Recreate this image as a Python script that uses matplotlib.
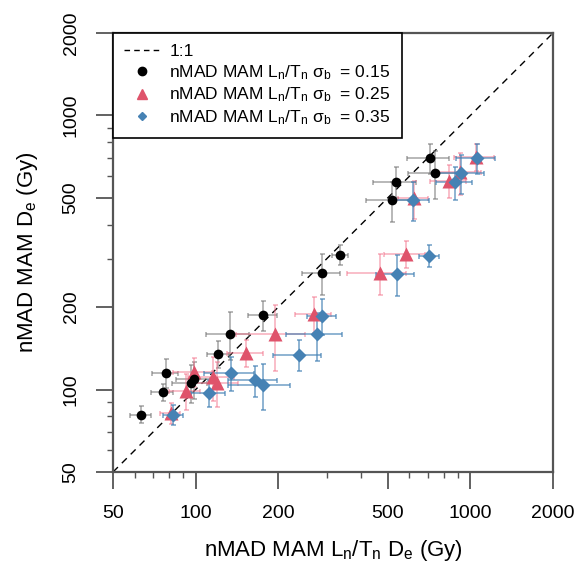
import matplotlib.pyplot as plt
from matplotlib.lines import Line2D
from matplotlib.ticker import FixedLocator, NullFormatter

plt.rcParams['font.family'] = ['Liberation Sans', 'DejaVu Sans']
plt.rcParams['mathtext.fontset'] = 'custom'
plt.rcParams['mathtext.rm'] = 'Liberation Sans'
plt.rcParams['mathtext.it'] = 'Liberation Sans:italic'
plt.rcParams['mathtext.bf'] = 'Liberation Sans:bold'

# sigma_b = 0.15 (black circles)
x15 = [63, 76, 78, 96, 99, 121, 133, 176, 289, 336, 517, 537, 714, 744]
y15 = [81, 98, 115, 106, 109, 135, 160, 187, 266, 310, 490, 574, 698, 619]
xe15 = [5.5, 7, 8.5, 14, 14, 11, 24, 21, 46, 23, 100, 95, 125, 150]
ye15 = [5.7, 7, 14, 17, 17, 15, 32, 23, 45, 26, 83, 75, 87, 125]

# sigma_b = 0.25 (red triangles)
x25 = [81, 92, 99, 116, 120, 153, 195, 270, 470, 584, 624, 837, 918, 1049]
y25 = [82, 99, 116, 111, 106, 136, 160, 189, 267, 312, 499, 579, 621, 708]
xe25 = [7, 12, 16, 22, 22, 23, 55, 40, 115, 100, 80, 125, 175, 175]
ye25 = [7, 15, 14, 20, 20, 15, 43, 28, 45, 35, 80, 80, 110, 80]

# sigma_b = 0.35 (blue diamonds)
x35 = [83, 112, 135, 164, 176, 238, 277, 289, 540, 710, 617, 880, 923, 1056]
y35 = [81, 97, 115, 108, 104, 134, 159, 186, 264, 308, 492, 571, 616, 698]
xe35 = [7, 16, 28, 33, 45, 47, 63, 34, 85, 62, 92, 130, 195, 170]
ye35 = [7, 11, 16, 14, 20, 17, 32, 28, 45, 29, 80, 80, 100, 87]

major_ticks = [50, 100, 200, 500, 1000, 2000]
minor_ticks = [60, 70, 80, 90, 300, 400, 600, 700, 800, 900]

red = '#DF536B'
blue = '#4682B4'

fig = plt.figure(figsize=(5.78, 5.69), dpi=100)
ax = fig.add_axes([113 / 578, 97 / 569, 440 / 578, 439 / 569])
ax.set_xscale('log')
ax.set_yscale('log')

ax.plot([50, 2000], [50, 2000], color='black', lw=1, ls=(0, (5, 4)), zorder=1)

# error bars
ax.errorbar(x15, y15, xerr=xe15, yerr=ye15, fmt='none', ecolor=(0.45, 0.45, 0.45, 0.55),
            elinewidth=1.3, capsize=1.8, capthick=1.3, zorder=2)
ax.errorbar(x25, y25, xerr=xe25, yerr=ye25, fmt='none', ecolor=(0.95, 0.45, 0.55, 0.5),
            elinewidth=1.3, capsize=1.8, capthick=1.3, zorder=2)
ax.errorbar(x35, y35, xerr=xe35, yerr=ye35, fmt='none', ecolor=(0.27, 0.51, 0.71, 0.65),
            elinewidth=1.3, capsize=1.8, capthick=1.3, zorder=2)

ax.plot(x25, y25, ls='none', marker='^', ms=10, color=red, mec='none', zorder=3)
ax.plot(x15, y15, ls='none', marker='o', ms=7, color='black', mec='none', zorder=4)
ax.plot(x35, y35, ls='none', marker='D', ms=7.5, color=blue, mec='none', zorder=5)

ax.set_xlim(50, 2000)
ax.set_ylim(50, 2000)

for axis in (ax.xaxis, ax.yaxis):
    axis.set_major_locator(FixedLocator(major_ticks))
    axis.set_minor_locator(FixedLocator(minor_ticks))
    axis.set_minor_formatter(NullFormatter())
ax.set_xticklabels([str(t) for t in major_ticks])
ax.set_yticklabels([str(t) for t in major_ticks], rotation=90, va='center')

ax.tick_params(which='major', direction='out', length=12, width=1.3, color='#555555',
               labelsize=14, pad=12)
ax.tick_params(which='minor', direction='out', length=4, width=1.0, color='#555555')
for sp in ax.spines.values():
    sp.set_color('#555555')
    sp.set_linewidth(1.6)

ax.set_xlabel('nMAD MAM L$_{\\rm n}$/T$_{\\rm n}$ D$_{\\rm e}$ (Gy)', fontsize=16, labelpad=11)
ax.set_ylabel('nMAD MAM D$_{\\rm e}$ (Gy)', fontsize=16, labelpad=16)

handles = [
    Line2D([], [], color='black', lw=1, ls=(0, (4, 3))),
    Line2D([], [], ls='none', marker='o', ms=6, color='black'),
    Line2D([], [], ls='none', marker='^', ms=7, color=red),
    Line2D([], [], ls='none', marker='D', ms=4.5, color=blue),
]
labels = [
    '1:1',
    'nMAD MAM L$_{\\rm n}$/T$_{\\rm n}$ σ$_{\\rm b}$  = 0.15',
    'nMAD MAM L$_{\\rm n}$/T$_{\\rm n}$ σ$_{\\rm b}$  = 0.25',
    'nMAD MAM L$_{\\rm n}$/T$_{\\rm n}$ σ$_{\\rm b}$  = 0.35',
]
leg = ax.legend(handles, labels, loc='upper left', bbox_to_anchor=(0, 1), borderaxespad=0,
                fontsize=12.5, frameon=True, fancybox=False, framealpha=1, edgecolor='black',
                handlelength=2.0, handletextpad=0.6, labelspacing=0.22, borderpad=0.65)
leg.get_frame().set_linewidth(1.2)

fig.savefig('out.png', dpi=100)
